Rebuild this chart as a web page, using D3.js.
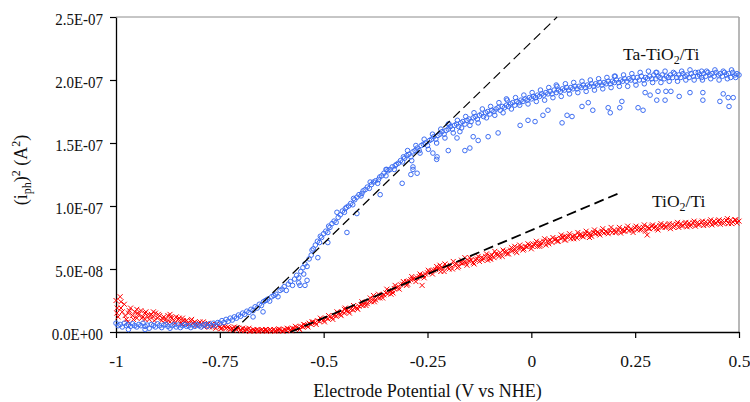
<!DOCTYPE html>
<html>
<head>
<meta charset="utf-8">
<script src="https://cdn.jsdelivr.net/npm/d3@7"></script>
<style>
  body { margin: 0; background: #fff; }
  text { font-family: "Liberation Serif", "Times New Roman", serif; fill: #111; }
</style>
</head>
<body>
<div id="chart"></div>
<script>
/*
* Photocurrent squared vs electrode potential
*/

const W = 750, H = 402;
const margin = {top: 17, right: 11, bottom: 70, left: 116};

const xTicks = [-1, -0.75, -0.5, -0.25, 0, 0.25, 0.5];
const xTickLabels = ['-1', '-0.75', '-0.5', '-0.25', '0', '0.25', '0.5'];
const yTicks = [0, 5e-8, 1e-7, 1.5e-7, 2e-7, 2.5e-7];
const yTickLabels = ['0.0E+00', '5.0E-08', '1.0E-07', '1.5E-07', '2.0E-07', '2.5E-07'];

const UNIT = 1e-8; // (i_ph)^2 values below are in units of 1e-8 A^2

// TiO2/Ti  [potential V, (i_ph)^2]
const tio2 = [
  [-1.000,2.5],[-0.995,1.2],[-0.990,2.8],[-0.985,1.6],[-0.980,2.2],[-0.975,1.0],[-0.970,1.5],[-0.965,1.9],[-0.960,1.3],[-0.955,1.6],
  [-0.950,1.1],[-0.945,1.4],[-0.940,1.7],[-0.935,1.2],[-0.930,1.5],[-0.925,1.3],[-0.920,1.0],[-0.915,1.4],[-0.910,1.2],[-0.905,1.5],
  [-0.900,1.1],[-0.895,1.3],[-0.890,0.9],[-0.885,1.2],[-0.880,1.0],[-0.875,1.3],[-0.870,0.8],[-0.865,1.1],[-0.860,0.9],[-0.855,1.2],
  [-0.850,1.0],[-0.845,0.7],[-0.840,1.1],[-0.835,0.8],[-0.830,0.9],[-0.825,0.6],[-0.820,0.9],[-0.815,0.7],[-0.810,0.8],[-0.805,0.5],
  [-0.800,0.7],[-0.795,0.6],[-0.790,0.8],[-0.785,0.5],[-0.780,0.6],[-0.775,0.4],[-0.770,0.6],[-0.765,0.5],[-0.760,0.3],[-0.755,0.5],
  [-0.750,0.4],[-0.745,0.3],[-0.740,0.5],[-0.735,0.3],[-0.730,0.4],[-0.725,0.2],[-0.720,0.3],[-0.715,0.4],[-0.710,0.2],[-0.705,0.3],
  [-0.700,0.2],[-0.695,0.3],[-0.690,0.1],[-0.685,0.2],[-0.680,0.3],[-0.675,0.1],[-0.670,0.2],[-0.665,0.1],[-0.660,0.2],[-0.655,0.1],
  [-0.650,0.15],[-0.645,0.1],[-0.640,0.2],[-0.635,0.1],[-0.630,0.15],[-0.625,0.1],[-0.620,0.2],[-0.615,0.1],[-0.610,0.15],[-0.605,0.2],
  [-0.600,0.1],[-0.595,0.2],[-0.590,0.15],[-0.585,0.25],[-0.580,0.2],[-0.575,0.3],[-0.570,0.25],[-0.565,0.35],[-0.560,0.3],[-0.555,0.45],
  [-0.550,0.4],[-0.545,0.55],[-0.540,0.5],[-0.535,0.7],[-0.530,0.6],[-0.525,0.8],[-0.520,0.75],[-0.515,0.9],[-0.510,0.85],[-0.505,1.0],
  [-0.500,0.95],[-0.495,1.1],[-0.490,1.05],[-0.485,1.2],[-0.480,1.15],[-0.475,1.3],[-0.470,1.25],[-0.465,1.45],[-0.460,1.4],[-0.455,1.6],
  [-0.450,1.5],[-0.445,1.7],[-0.440,1.65],[-0.435,1.8],[-0.430,1.75],[-0.425,1.95],[-0.420,1.9],[-0.415,2.05],[-0.410,2.15],[-0.405,2.1],
  [-0.400,2.3],[-0.395,2.25],[-0.390,2.45],[-0.385,2.4],[-0.380,2.6],[-0.375,2.55],[-0.370,2.75],[-0.365,2.7],[-0.360,2.9],[-0.355,2.95],
  [-0.350,3.1],[-0.345,3.05],[-0.340,3.25],[-0.335,3.3],[-0.330,3.45],[-0.325,3.5],[-0.320,3.6],[-0.315,3.75],[-0.310,3.8],[-0.305,3.9],
  [-0.300,4.0],[-0.295,4.05],[-0.290,4.15],[-0.285,4.2],[-0.280,4.25],[-0.275,4.3],[-0.270,4.4],[-0.265,4.45],[-0.260,4.5],[-0.255,4.6],
  [-0.250,4.7],[-0.245,4.75],[-0.240,4.85],[-0.235,4.9],[-0.230,4.95],[-0.225,5.0],[-0.220,5.05],[-0.215,5.1],[-0.210,4.8],[-0.205,5.2],
  [-0.200,5.15],[-0.195,5.3],[-0.190,5.0],[-0.185,5.35],[-0.180,5.4],[-0.175,5.2],[-0.170,5.5],[-0.165,5.45],[-0.160,5.6],[-0.155,5.3],
  [-0.150,5.65],[-0.145,5.7],[-0.140,5.5],[-0.135,5.75],[-0.130,5.8],[-0.125,5.6],[-0.120,5.9],[-0.115,5.85],[-0.110,6.0],[-0.105,5.7],
  [-0.100,6.05],[-0.095,6.1],[-0.090,5.9],[-0.085,6.2],[-0.080,6.15],[-0.075,6.3],[-0.070,6.0],[-0.065,6.35],[-0.060,6.4],[-0.055,6.2],
  [-0.050,6.5],[-0.045,6.45],[-0.040,6.6],[-0.035,6.3],[-0.030,6.65],[-0.025,6.7],[-0.020,6.5],[-0.015,6.8],[-0.010,6.75],[-0.005,6.9],
  [0.000,6.6],[0.005,6.95],[0.010,7.0],[0.015,6.8],[0.020,7.1],[0.025,7.05],[0.030,7.2],[0.035,6.9],[0.040,7.25],[0.045,7.3],
  [0.050,7.1],[0.055,7.35],[0.060,7.4],[0.065,7.2],[0.070,7.45],[0.075,7.5],[0.080,7.3],[0.085,7.55],[0.090,7.6],[0.095,7.4],
  [0.100,7.6],[0.105,7.65],[0.110,7.45],[0.115,7.7],[0.120,7.75],[0.125,7.55],[0.130,7.8],[0.135,7.7],[0.140,7.85],[0.145,7.6],
  [0.150,7.9],[0.155,7.8],[0.160,7.95],[0.165,7.7],[0.170,8.0],[0.175,7.85],[0.180,8.0],[0.185,7.8],[0.190,8.05],[0.195,7.9],
  [0.200,8.1],[0.205,7.95],[0.210,8.1],[0.215,7.85],[0.220,8.15],[0.225,8.0],[0.230,8.2],[0.235,8.05],[0.240,8.2],[0.245,7.9],
  [0.250,8.25],[0.255,8.1],[0.260,8.3],[0.265,8.15],[0.270,8.3],[0.275,8.0],[0.280,8.35],[0.285,8.2],[0.290,8.4],[0.295,8.25],
  [0.300,8.4],[0.305,8.1],[0.310,8.45],[0.315,8.3],[0.320,8.5],[0.325,8.35],[0.330,8.5],[0.335,8.2],[0.340,8.55],[0.345,8.4],
  [0.350,8.55],[0.355,8.3],[0.360,8.6],[0.365,8.45],[0.370,8.6],[0.375,8.35],[0.380,8.65],[0.385,8.5],[0.390,8.65],[0.395,8.4],
  [0.400,8.7],[0.405,8.55],[0.410,8.7],[0.415,8.45],[0.420,8.75],[0.425,8.6],[0.430,8.75],[0.435,8.5],[0.440,8.8],[0.445,8.65],
  [0.450,8.8],[0.455,8.55],[0.460,8.85],[0.465,8.7],[0.470,8.85],[0.475,8.6],[0.480,8.9],[0.485,8.75],[0.490,8.9],[0.495,8.65],
  [0.500,8.8]
];
// second sweep of TiO2/Ti readings
const tio2Sweep2 = [
  [-0.998,1.5],[-0.988,1.9],[-0.978,1.3],[-0.968,1.7],[-0.958,1.0],[-0.948,1.5],[-0.938,1.1],[-0.928,1.6],[-0.918,1.3],[-0.908,0.9],
  [-0.898,1.4],[-0.888,1.1],[-0.878,0.8],[-0.868,1.2],[-0.858,0.7],[-0.848,1.1],[-0.838,0.9],[-0.828,0.7],[-0.818,1.0],[-0.808,0.6],
  [-0.798,0.8],[-0.788,0.4],[-0.778,0.7],[-0.768,0.4],[-0.758,0.6],[-0.748,0.25],[-0.738,0.4],[-0.728,0.3],[-0.718,0.15],[-0.708,0.35],
  [-0.698,0.1],[-0.688,0.25],[-0.678,0.05],[-0.668,0.15],[-0.658,0.05],[-0.648,0.2],[-0.638,0.05],[-0.628,0.2],[-0.618,0.05],[-0.608,0.25],
  [-0.598,0.05],[-0.588,0.3],[-0.578,0.1],[-0.568,0.45],[-0.558,0.2],[-0.548,0.6],[-0.538,0.4],[-0.528,0.8],[-0.518,0.6],[-0.508,1.1],
  [-0.498,0.8],[-0.488,1.3],[-0.478,1.0],[-0.468,1.6],[-0.458,1.3],[-0.448,1.9],[-0.438,1.5],[-0.428,2.1],[-0.418,1.8],[-0.408,2.4],
  [-0.398,2.1],[-0.388,2.7],[-0.378,2.4],[-0.368,3.0],[-0.358,2.7],[-0.348,3.4],[-0.338,3.0],[-0.328,3.7],[-0.318,3.4],[-0.308,4.0],
  [-0.298,3.8],[-0.288,4.4],[-0.278,4.0],[-0.268,4.6],[-0.258,4.3],[-0.248,4.9],[-0.238,4.6],[-0.228,5.2],[-0.218,4.8],[-0.208,5.4],
  [-0.198,5.0],[-0.188,5.6],[-0.178,5.1],[-0.168,5.7],[-0.158,5.5],[-0.148,5.9],[-0.138,5.4],[-0.128,6.0],[-0.118,5.7],[-0.108,6.2],
  [-0.098,5.8],[-0.088,6.4],[-0.078,6.0],[-0.068,6.5],[-0.058,6.2],[-0.048,6.7],[-0.038,6.4],[-0.028,6.9],[-0.018,6.6],[-0.008,7.0],
  [0.002,6.8],[0.012,7.2],[0.022,6.9],[0.032,7.4],[0.042,7.0],[0.052,7.5],[0.062,7.2],[0.072,7.7],[0.082,7.3],[0.092,7.8],
  [0.102,7.4],[0.112,7.9],[0.122,7.6],[0.132,8.0],[0.142,7.7],[0.152,8.1],[0.162,7.8],[0.172,8.2],[0.182,7.9],[0.192,8.3],
  [0.202,7.9],[0.212,8.3],[0.222,8.0],[0.232,8.4],[0.242,8.1],[0.252,8.4],[0.262,8.1],[0.272,8.5],[0.282,8.2],[0.292,8.5],
  [0.302,8.2],[0.312,8.6],[0.322,8.3],[0.332,8.6],[0.342,8.3],[0.352,8.7],[0.362,8.4],[0.372,8.7],[0.382,8.4],[0.392,8.8],
  [0.402,8.5],[0.412,8.8],[0.422,8.5],[0.432,8.9],[0.442,8.6],[0.452,8.9],[0.462,8.6],[0.472,9.0],[0.482,8.6],[0.492,8.9]
];
const tio2Extra = [
  [-0.997,1.9],[-0.988,2.4],[-0.972,0.8],[-0.95,1.8],[-0.93,1.0],[-0.91,1.6],[-0.87,1.4],[-0.84,0.6],[-0.333,3.1],[-0.263,3.7],
  [-0.45,1.8],[-0.38,2.9],[-0.3,3.7],[-0.22,5.3],[-0.16,5.9],[-0.1,5.8],[-0.04,6.8],[0.02,6.8],[0.08,7.6],[0.279,7.7],[0.14,7.5]
];

// Ta-TiO2/Ti  [potential V, (i_ph)^2]
const taTio2 = [
  [-1.000,0.7],[-0.995,0.5],[-0.990,0.6],[-0.985,0.4],[-0.980,0.7],[-0.975,0.5],[-0.970,0.6],[-0.965,0.45],[-0.960,0.65],[-0.955,0.5],
  [-0.950,0.4],[-0.945,0.6],[-0.940,0.5],[-0.935,0.7],[-0.930,0.45],[-0.925,0.55],[-0.920,0.3],[-0.915,0.6],[-0.910,0.5],[-0.905,0.4],
  [-0.900,0.65],[-0.895,0.5],[-0.890,0.35],[-0.885,0.55],[-0.880,0.6],[-0.875,0.45],[-0.870,0.3],[-0.865,0.5],[-0.860,0.6],[-0.855,0.4],
  [-0.850,0.55],[-0.845,0.35],[-0.840,0.5],[-0.835,0.6],[-0.830,0.45],[-0.825,0.5],[-0.820,0.35],[-0.815,0.55],[-0.810,0.45],[-0.805,0.6],
  [-0.800,0.5],[-0.795,0.4],[-0.790,0.55],[-0.785,0.6],[-0.780,0.45],[-0.775,0.65],[-0.770,0.5],[-0.765,0.7],[-0.760,0.55],[-0.755,0.75],
  [-0.750,0.7],[-0.745,0.9],[-0.740,0.75],[-0.735,1.0],[-0.730,0.85],[-0.725,1.1],[-0.720,0.95],[-0.715,1.2],[-0.710,1.1],[-0.705,1.35],
  [-0.700,1.25],[-0.695,1.5],[-0.690,1.4],[-0.685,1.65],[-0.680,1.55],[-0.675,1.8],[-0.670,1.7],[-0.665,2.0],[-0.660,1.9],[-0.655,2.2],
  [-0.650,2.1],[-0.645,2.4],[-0.640,2.5],[-0.635,2.6],[-0.630,2.45],[-0.625,2.8],[-0.620,2.9],[-0.615,3.0],[-0.610,2.8],[-0.605,3.3],
  [-0.600,3.4],[-0.595,3.6],[-0.590,3.3],[-0.585,3.8],[-0.580,4.0],[-0.575,3.7],[-0.570,4.2],[-0.565,4.5],[-0.560,4.3],[-0.555,4.8],
  [-0.550,5.1],[-0.545,5.4],[-0.540,5.2],[-0.535,5.8],[-0.530,6.1],[-0.525,6.6],[-0.520,6.9],[-0.515,7.2],[-0.510,7.1],[-0.505,7.5],
  [-0.500,7.8],[-0.495,8.0],[-0.490,7.9],[-0.485,8.3],[-0.480,8.6],[-0.475,8.8],[-0.470,8.7],[-0.465,9.1],[-0.460,9.3],[-0.455,9.6],
  [-0.450,9.5],[-0.445,9.9],[-0.440,10.0],[-0.435,10.2],[-0.430,10.1],[-0.425,10.5],[-0.420,10.7],[-0.415,10.9],[-0.410,10.8],[-0.405,11.2],
  [-0.400,11.3],[-0.395,11.5],[-0.390,11.4],[-0.385,11.7],[-0.380,11.9],[-0.375,12.0],[-0.370,11.8],[-0.365,12.3],[-0.360,12.4],[-0.355,12.6],
  [-0.350,12.4],[-0.345,12.8],[-0.340,12.9],[-0.335,13.1],[-0.330,12.9],[-0.325,13.3],[-0.320,13.4],[-0.315,13.6],[-0.310,13.5],[-0.305,13.8],
  [-0.300,14.0],[-0.295,14.1],[-0.290,13.9],[-0.285,14.3],[-0.280,14.4],[-0.275,14.6],[-0.270,14.4],[-0.265,14.8],[-0.260,14.9],[-0.255,15.0],
  [-0.250,14.8],[-0.245,15.2],[-0.240,15.3],[-0.235,15.5],[-0.230,15.3],[-0.225,15.6],[-0.220,15.7],[-0.215,15.9],[-0.210,15.7],[-0.205,16.0],
  [-0.200,16.1],[-0.195,16.3],[-0.190,16.1],[-0.185,16.4],[-0.180,16.5],[-0.175,16.3],[-0.170,16.6],[-0.165,16.7],[-0.160,16.5],[-0.155,16.8],
  [-0.150,16.9],[-0.145,16.7],[-0.140,17.0],[-0.135,17.1],[-0.130,16.9],[-0.125,17.2],[-0.120,17.3],[-0.115,17.1],[-0.110,17.4],[-0.105,17.5],
  [-0.100,17.3],[-0.095,17.6],[-0.090,17.5],[-0.085,17.7],[-0.080,17.8],[-0.075,17.6],[-0.070,17.9],[-0.065,17.8],[-0.060,18.0],[-0.055,17.9],
  [-0.050,18.1],[-0.045,18.2],[-0.040,18.0],[-0.035,18.3],[-0.030,18.2],[-0.025,18.4],[-0.020,18.3],[-0.015,18.5],[-0.010,18.4],[-0.005,18.6],
  [0.000,18.5],[0.005,18.7],[0.010,18.6],[0.015,18.8],[0.020,18.7],[0.025,18.9],[0.030,18.8],[0.035,19.0],[0.040,18.9],[0.045,19.1],
  [0.050,18.9],[0.055,19.2],[0.060,19.0],[0.065,19.2],[0.070,19.1],[0.075,19.3],[0.080,19.2],[0.085,19.4],[0.090,19.2],[0.095,19.4],
  [0.100,19.3],[0.105,19.5],[0.110,19.3],[0.115,19.5],[0.120,19.4],[0.125,19.6],[0.130,19.4],[0.135,19.6],[0.140,19.5],[0.145,19.7],
  [0.150,19.5],[0.155,19.7],[0.160,19.6],[0.165,19.8],[0.170,19.6],[0.175,19.8],[0.180,19.7],[0.185,19.9],[0.190,19.7],[0.195,19.9],
  [0.200,19.8],[0.205,20.0],[0.210,19.8],[0.215,20.0],[0.220,19.9],[0.225,20.1],[0.230,19.9],[0.235,20.1],[0.240,20.0],[0.245,20.2],
  [0.250,19.9],[0.255,20.2],[0.260,20.0],[0.265,20.3],[0.270,20.0],[0.275,20.2],[0.280,20.1],[0.285,20.3],[0.290,20.1],[0.295,20.4],
  [0.300,20.1],[0.305,20.3],[0.310,20.2],[0.315,20.4],[0.320,20.1],[0.325,20.3],[0.330,20.2],[0.335,20.4],[0.340,20.2],[0.345,20.5],
  [0.350,20.2],[0.355,20.4],[0.360,20.2],[0.365,20.5],[0.370,20.3],[0.375,20.4],[0.380,20.2],[0.385,20.5],[0.390,20.3],[0.395,20.6],
  [0.400,20.3],[0.405,20.4],[0.410,20.2],[0.415,20.5],[0.420,20.3],[0.425,20.6],[0.430,20.4],[0.435,20.5],[0.440,20.3],[0.445,20.6],
  [0.450,20.4],[0.455,20.5],[0.460,20.3],[0.465,20.6],[0.470,20.4],[0.475,20.5],[0.480,20.2],[0.485,20.6],[0.490,20.4],[0.495,20.5],
  [0.500,20.4]
];
// second sweep of Ta-TiO2/Ti readings
const taSweep2 = [
  [-0.548,4.6],[-0.528,6.5],[-0.508,7.6],[-0.488,8.4],[-0.468,9.5],[-0.448,9.8],[-0.428,10.6],[-0.408,11.0],[-0.388,11.9],[-0.368,12.1],
  [-0.348,12.9],[-0.328,13.2],[-0.308,13.9],
  [-0.298,14.4],[-0.288,13.6],[-0.278,14.8],[-0.268,14.2],[-0.258,15.3],[-0.248,14.5],[-0.238,15.7],[-0.228,15.0],[-0.218,16.1],[-0.208,15.4],
  [-0.198,16.5],[-0.188,15.8],[-0.178,16.8],[-0.168,16.2],[-0.158,17.1],[-0.148,16.4],[-0.138,17.4],[-0.128,16.6],[-0.118,17.7],[-0.108,17.0],
  [-0.098,17.9],[-0.088,17.2],[-0.078,18.2],[-0.068,17.4],[-0.058,18.4],[-0.048,17.7],[-0.038,18.6],[-0.028,18.0],[-0.018,18.8],[-0.008,18.1],
  [0.002,19.0],[0.012,18.3],[0.022,19.2],[0.032,18.4],[0.042,19.4],[0.052,18.6],[0.062,19.5],[0.072,18.7],[0.082,19.7],[0.092,18.9],
  [0.102,19.8],[0.112,19.0],[0.122,19.9],[0.132,19.1],[0.142,20.0],[0.152,19.2],[0.162,20.1],[0.172,19.3],[0.182,20.2],[0.192,19.4],
  [0.202,20.3],[0.212,19.5],[0.222,20.4],[0.232,19.5],[0.242,20.5],[0.252,19.6],[0.262,20.6],[0.272,19.7],[0.282,20.7],[0.292,19.8],
  [0.302,20.6],[0.312,19.8],[0.322,20.7],[0.332,19.9],[0.342,20.6],[0.352,19.9],[0.362,20.7],[0.372,20.0],[0.382,20.8],[0.392,20.0],
  [0.402,20.6],[0.412,20.0],[0.422,20.7],[0.432,20.1],[0.442,20.8],[0.452,20.0],[0.462,20.7],[0.472,20.1],[0.482,20.8],[0.492,20.2]
];
// scattered low readings of Ta-TiO2/Ti
const taTio2Extra = [
  [-0.97,0.2],[-0.93,0.2],[-0.67,1.2],[-0.646,1.6],[-0.56,3.9],[-0.557,3.7],[-0.545,3.7],[-0.54,4.1],[-0.514,5.9],[-0.49,7.1],
  [-0.444,7.9],[-0.42,9.4],[-0.364,10.9],[-0.311,11.8],[-0.29,12.5],[-0.285,12.9],[-0.285,13.1],[-0.275,12.6],[-0.237,14.2],[-0.228,13.7],
  [-0.227,13.9],[-0.2,14.4],[-0.179,15.4],[-0.172,15.9],[-0.16,14.4],[-0.148,14.6],[-0.14,15.5],[-0.128,15.2],[-0.104,15.5],[-0.08,15.8],
  [-0.027,16.4],[-0.008,16.8],[0.009,16.7],[0.028,17.2],[0.04,17.6],[0.074,16.6],[0.086,17.2],[0.098,17.1],[0.122,17.9],[0.137,18.2],
  [0.148,17.6],[0.185,17.8],[0.19,17.4],[0.213,17.8],[0.218,18.3],[0.257,17.8],[0.269,17.6],[0.274,19.0],[0.286,18.8],[0.302,18.4],
  [0.305,19.1],[0.322,18.4],[0.324,19.1],[0.336,19.1],[0.356,18.7],[0.382,19.0],[0.413,18.4],[0.413,19.0],[0.454,18.3],[0.462,18.9],
  [0.474,18.6],[0.476,17.9],[0.486,18.6],[-0.06,18.5],[0.06,19.6],[0.2,20.3],[0.3,20.6],[0.41,20.7],[-0.2,16.5],[-0.35,12.9]
];

// dashed linear fits  [potential V, (i_ph)^2]
const tio2Fit = [[-0.58, 0], [0.21, 11.0]];
const taFit = [[-0.72, 0], [0.062, 25]];

const svg = d3.select('#chart').append('svg')
  .attr('width', W)
  .attr('height', H);

const x = d3.scaleLinear().domain([-1, 0.5]).range([margin.left, W - margin.right]);
const y = d3.scaleLinear().domain([0, 2.5e-7]).range([H - margin.bottom, margin.top]);

// frame: grey top and right edges
svg.append('line')
  .attr('x1', x(-1)).attr('x2', x(0.5))
  .attr('y1', y(2.5e-7)).attr('y2', y(2.5e-7))
  .attr('stroke', '#8c8c8c').attr('stroke-width', 1);
svg.append('line')
  .attr('x1', x(0.5)).attr('x2', x(0.5))
  .attr('y1', y(2.5e-7)).attr('y2', y(0))
  .attr('stroke', '#a0a0a0').attr('stroke-width', 1.5);

// axes
const xAxis = svg.append('g')
  .attr('transform', 'translate(0,' + y(0) + ')')
  .call(d3.axisBottom(x).tickValues(xTicks).tickSize(6).tickSizeOuter(0)
    .tickFormat(function (d, i) { return xTickLabels[i]; }));
const yAxis = svg.append('g')
  .attr('transform', 'translate(' + x(-1) + ',0)')
  .call(d3.axisLeft(y).tickValues(yTicks).tickSize(6).tickSizeOuter(0)
    .tickFormat(function (d, i) { return yTickLabels[i]; }));

[xAxis, yAxis].forEach(function (g) {
  g.select('.domain').attr('stroke', '#000').attr('stroke-width', 1.3);
  g.selectAll('.tick line').attr('stroke', '#000').attr('stroke-width', 1.2);
  g.selectAll('.tick text')
    .style('font-family', '"Liberation Serif", "Times New Roman", serif')
    .attr('fill', '#111');
});
xAxis.selectAll('.tick text').style('font-size', '17.5px').attr('y', 35).attr('dy', 0);
// y labels look horizontally condensed in the original
yAxis.selectAll('.tick text')
  .style('font-size', '17px')
  .attr('x', -13 / 0.88)
  .attr('dy', 7)
  .attr('transform', 'scale(0.88,1)');

// points: TiO2/Ti red crosses
const plot = svg.append('g');
const cross = 2.5;
plot.selectAll('.tio2')
  .data(tio2.concat(tio2Sweep2, tio2Extra))
  .enter().append('path')
  .attr('class', 'tio2')
  .attr('d', function (d) {
    let px = x(d[0]), py = y(d[1] * UNIT);
    return 'M' + (px - cross) + ',' + (py - cross) + 'L' + (px + cross) + ',' + (py + cross) +
      'M' + (px - cross) + ',' + (py + cross) + 'L' + (px + cross) + ',' + (py - cross);
  })
  .attr('stroke', '#ff0000')
  .attr('stroke-width', 1)
  .attr('fill', 'none');

// points: Ta-TiO2/Ti blue open circles
plot.selectAll('.ta')
  .data(taTio2.concat(taSweep2, taTio2Extra))
  .enter().append('circle')
  .attr('class', 'ta')
  .attr('cx', function (d) { return x(d[0]); })
  .attr('cy', function (d) { return y(d[1] * UNIT); })
  .attr('r', 2.3)
  .attr('fill', 'none')
  .attr('stroke', '#3d6df2')
  .attr('stroke-width', 1);

// fitted lines
const line = d3.line()
  .x(function (d) { return x(d[0]); })
  .y(function (d) { return y(d[1] * UNIT); });

svg.append('path')
  .attr('d', line(taFit))
  .attr('fill', 'none')
  .attr('stroke', '#000')
  .attr('stroke-width', 1.2)
  .attr('stroke-dasharray', '9,5');
svg.append('path')
  .attr('d', line(tio2Fit))
  .attr('fill', 'none')
  .attr('stroke', '#000')
  .attr('stroke-width', 1.8)
  .attr('stroke-dasharray', '10,5');

// series labels
function label(txt, px, py) {
  let t = svg.append('text')
    .attr('x', px).attr('y', py)
    .style('font-size', '17.5px');
  txt.forEach(function (part) {
    let s = t.append('tspan').text(part[0]);
    if (part[1] === 'sub') s.attr('dy', 4).style('font-size', '12px');
    if (part[1] === 'back') s.attr('dy', -4);
  });
}
label([['Ta-TiO'], ['2', 'sub'], ['/Ti', 'back']], 623, 60);
label([['TiO'], ['2', 'sub'], ['/Ti', 'back']], 652, 207);

// axis titles
svg.append('text')
  .attr('x', (margin.left + W - margin.right) / 2)
  .attr('y', 397)
  .attr('text-anchor', 'middle')
  .style('font-size', '18px')
  .text('Electrode Potential (V vs NHE)');

let yt = svg.append('text')
  .attr('transform', 'translate(27,170) rotate(-90)')
  .attr('text-anchor', 'middle')
  .style('font-size', '18px');
yt.append('tspan').text('(i');
yt.append('tspan').text('ph').attr('dy', 4).style('font-size', '12px');
yt.append('tspan').text(')').attr('dy', -4);
yt.append('tspan').text('2').attr('dy', -7).style('font-size', '12px');
yt.append('tspan').text(' (A').attr('dy', 7);
yt.append('tspan').text('2').attr('dy', -7).style('font-size', '12px');
yt.append('tspan').text(')').attr('dy', 7);
</script>
</body>
</html>
